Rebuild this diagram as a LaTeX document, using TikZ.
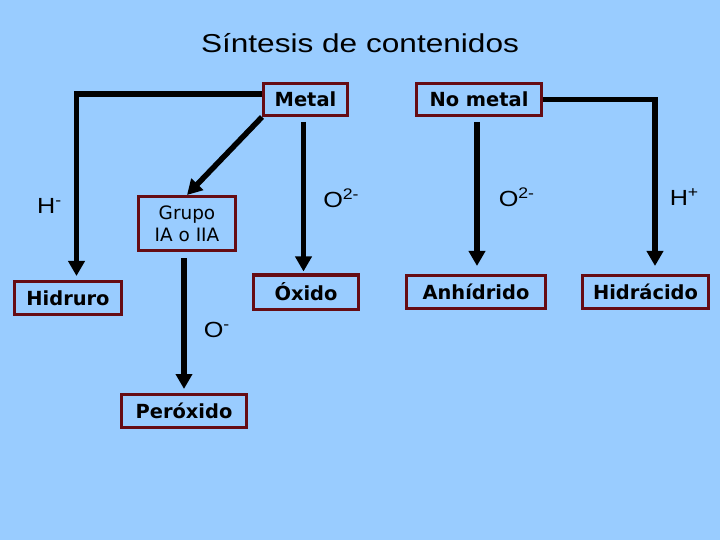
\documentclass[tikz,border=0pt]{standalone}
\usepackage{fontspec}
\usepackage{graphicx}
\usepackage{tikz}
\usetikzlibrary{arrows.meta,positioning,calc}
\newfontfamily\boxfont{DejaVu Sans}
\newfontfamily\ionfont{Liberation Sans}
\definecolor{slideblue}{RGB}{153,204,255}
\definecolor{boxred}{RGB}{102,12,20}
\newcommand{\ionlabel}[2]{\scalebox{1.15}[1]{#1\textsuperscript{#2}}}

\begin{document}
\begin{tikzpicture}[x=1bp,y=-1bp,
  box/.style={draw=boxred,line width=3bp,fill=slideblue,inner sep=0pt,
              font=\boxfont\bfseries\fontsize{19.5}{23}\selectfont,text=black},
  arrow/.style={-{Triangle[width=16bp,length=15bp]},line width=5.5bp,black,line join=miter},
  ion/.style={font=\ionfont\fontsize{22}{26}\selectfont,inner sep=0pt}]

  % Slide background
  \fill[slideblue] (0,0) rectangle (720,540);
  \useasboundingbox (0,0) rectangle (720,540);

  % Title
  \node[font=\ionfont\fontsize{26}{30}\selectfont,anchor=base]
    (title) at (360,53) {\scalebox{1.22}[1]{Síntesis de contenidos}};

  % Starting elements
  \node[box,minimum width=84bp,minimum height=32bp] (metal) at (305.5,99.5) {Metal};
  \node[box,minimum width=125bp,minimum height=32bp] (nometal) at (479,99.5) {No metal};

  % Middle step
  \node[box,minimum width=97bp,minimum height=54bp,align=center,
        font=\boxfont\fontsize{18.5}{22}\selectfont]
    (grupo) at (187,223.5) {Grupo\\IA o IIA};

  % Compounds
  \node[box,minimum width=107bp,minimum height=33bp] (hidruro) at (68,298) {Hidruro};
  \node[box,minimum width=105bp,minimum height=34bp] (oxido) at (306,292) {Óxido};
  \node[box,minimum width=139bp,minimum height=33bp] (anhidrido) at (476,292) {Anhídrido};
  \node[box,minimum width=126bp,minimum height=33bp] (hidracido) at (645.5,292) {Hidrácido};
  \node[box,minimum width=125bp,minimum height=33bp] (peroxido) at (184,411) {Peróxido};

  % Arrows from metal
  \draw[arrow,shorten >=4bp] ([yshift=5.5bp]metal.west) -|
    node[ion,pos=0.8,left=12bp] {\ionlabel{H}{-}}
    ([xshift=8.5bp]hidruro.north);
  \draw[arrow] (metal.south west) -- (grupo.north);
  \draw[arrow,shorten <=5bp,shorten >=2bp] ([xshift=-2bp]metal.south) --
    node[ion,pos=0.52,right=17bp] {\ionlabel{O}{2-}}
    ([xshift=-2bp]metal.south |- oxido.north);

  % Arrow from grupo
  \draw[arrow,shorten <=6bp,shorten >=4bp] (peroxido.north |- grupo.south) --
    node[ion,pos=0.55,right=17bp] {\ionlabel{O}{-}}
    (peroxido.north);

  % Arrows from no metal
  \draw[arrow,shorten <=5bp,shorten >=8bp] ([xshift=-2bp]nometal.south) --
    node[ion,pos=0.51,right=19bp] {\ionlabel{O}{2-}}
    ([xshift=-2bp]nometal.south |- anhidrido.north);
  \draw[arrow,shorten >=8bp] (nometal.east) -|
    node[ion,pos=0.78,right=12bp] {\ionlabel{H}{+}}
    ([xshift=9.5bp]hidracido.north);

\end{tikzpicture}
\end{document}
